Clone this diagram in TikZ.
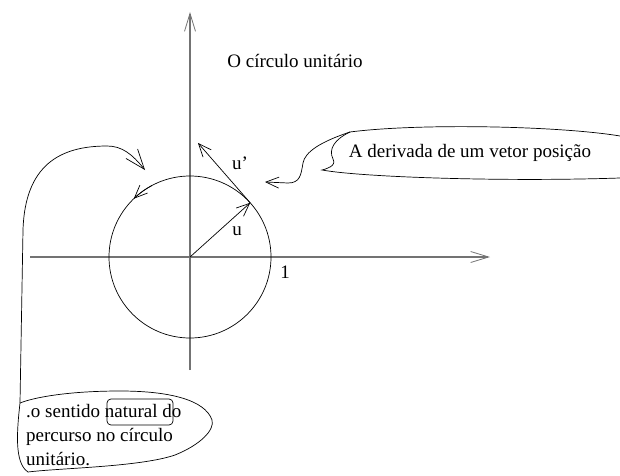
\documentclass[tikz,border=0pt]{standalone}
\usepackage{fontspec}
\setmainfont{Liberation Serif}
\usetikzlibrary{arrows.meta}
\tikzstyle{axis}=[draw=black!55, line width=1.3pt, -{Straight Barb[length=18pt,width=11pt,line width=0.8pt]}]
\tikzstyle{sketch}=[line width=0.7pt]
\tikzstyle{vec}=[sketch, -{Straight Barb[length=13pt,width=11pt]}]
\tikzstyle{bigvec}=[sketch, -{Straight Barb[length=20pt,width=15pt]}]
\tikzstyle{txt}=[font=\fontsize{19}{24}\selectfont, inner sep=0]

\begin{document}
\begin{tikzpicture}[x=1pt, y=1pt]
    \useasboundingbox (0,0) rectangle (620,475);
    % axes and unit circle
    \coordinate (O) at (190,218);
    \coordinate (xl) at (30,218);
    \coordinate (xr) at (490,218);
    \coordinate (yb) at (190,105);
    \coordinate (yt) at (190,463);
    \draw[axis] (xl) -- (xr);
    \draw[axis] (yb) -- (yt);
    \node[circle, draw, sketch, minimum size=162pt, inner sep=0, outer sep=0] (circ) at (O) {};
    \draw[vec] (circ.118) arc[start angle=118, end angle=134, radius=81];
    \coordinate (du) at (198,332);
    \draw[vec] (O) -- (circ.42);
    \draw[vec] (circ.42) -- (du);
    \node[txt] (lu) at (237,244) {u};
    \node[txt] (ldu) at (240,312) {u'};
    \node[txt] (one) at (285,203) {1};
    \node[txt, anchor=base] (title) at (295,407) {O círculo unitário};
    % balloon on the right
    \node[txt, anchor=base] (deriv) at (470,318) {A derivada de um vetor posição};
    \coordinate (bc) at (350,343);
    \coordinate (btip) at (265,293);
    \draw[sketch] (bc) .. controls (420,352) and (560,349) .. (620,339);
    \draw[sketch] (bc) .. controls (335,336) and (328,326) .. (333,316)
        .. controls (337,309) and (326,306) .. (322,305)
        .. controls (360,298) and (500,293) .. (620,297);
    \draw[vec] (bc) .. controls (320,333) and (305,323) .. (303,312)
        .. controls (301,300) and (300,292) .. (288,292) -- (btip);
    % balloon on the left
    \node[txt, anchor=north west, align=left] (sense) at (26,71)
        {.o sentido natural do\\percurso no círculo\\unitário.};
    \coordinate (lb) at (20,72);
    \coordinate (ltip) at (145,305);
    \draw[sketch, rounded corners=4pt] (107,50) rectangle (173,76);
    \draw[sketch] (lb) .. controls (17,45) and (14,12) .. (28,3)
        .. controls (60,7) and (140,8) .. (175,20)
        .. controls (200,30) and (215,45) .. (212,55)
        .. controls (205,75) and (170,84) .. (120,84)
        .. controls (70,84) and (35,78) .. (lb);
    \draw[bigvec] (lb) -- (23,245) .. controls (25,310) and (60,329) .. (107,329)
        .. controls (122,329) and (132,321) .. (ltip);
\end{tikzpicture}
\end{document}
